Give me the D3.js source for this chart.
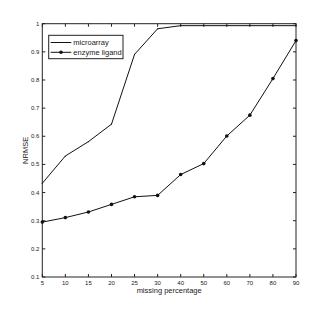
<!DOCTYPE html>
<html>
<head>
<meta charset="utf-8">
<script src="https://cdn.jsdelivr.net/npm/d3@7"></script>
<style>
  body { margin: 0; background: #fff; }
  text { font-family: "Liberation Sans", Arial, sans-serif; fill: #222; }
</style>
</head>
<body>
<svg id="chart" width="327" height="312"></svg>
<script>
// categories on the x axis (equally spaced)
var missing = [5, 10, 15, 20, 25, 30, 40, 50, 60, 70, 80, 90];
var microarray = [0.433, 0.53, 0.581, 0.643, 0.891, 0.982, 0.993, 0.993, 0.993, 0.993, 0.993, 0.993];
var enzymeLigand = [0.295, 0.311, 0.331, 0.358, 0.385, 0.39, 0.464, 0.503, 0.601, 0.675, 0.805, 0.94];
var yTicks = [0.1, 0.2, 0.3, 0.4, 0.5, 0.6, 0.7, 0.8, 0.9, 1];
var seriesNames = ['microarray', 'enzyme ligand'];

var svg = d3.select('#chart');
var plotL = 42.3, plotR = 296, plotT = 23.7, plotB = 277;

var x = d3.scalePoint()
    .domain(missing)
    .range([plotL, plotR]);
var y = d3.scaleLinear()
    .domain([0.1, 1])
    .range([plotB, plotT]);

// frame
svg.append('rect')
    .attr('x', plotL).attr('y', plotT)
    .attr('width', plotR - plotL).attr('height', plotB - plotT)
    .attr('fill', 'none').attr('stroke', '#222').attr('stroke-width', 1);

// ticks inside the box, all four sides
var tickLen = 3;
missing.forEach(function(m) {
    svg.append('line')
        .attr('x1', x(m)).attr('x2', x(m))
        .attr('y1', plotB).attr('y2', plotB - tickLen)
        .attr('stroke', '#222');
    svg.append('line')
        .attr('x1', x(m)).attr('x2', x(m))
        .attr('y1', plotT).attr('y2', plotT + tickLen)
        .attr('stroke', '#222');
    svg.append('text')
        .attr('x', x(m)).attr('y', plotB + 8)
        .attr('text-anchor', 'middle')
        .attr('font-size', 6)
        .text(m);
});
yTicks.forEach(function(t) {
    svg.append('line')
        .attr('x1', plotL).attr('x2', plotL + tickLen)
        .attr('y1', y(t)).attr('y2', y(t))
        .attr('stroke', '#222');
    svg.append('line')
        .attr('x1', plotR).attr('x2', plotR - tickLen)
        .attr('y1', y(t)).attr('y2', y(t))
        .attr('stroke', '#222');
    svg.append('text')
        .attr('x', plotL - 3).attr('y', y(t) + 2)
        .attr('text-anchor', 'end')
        .attr('font-size', 6)
        .text(t);
});

// axis labels
svg.append('text')
    .attr('x', (plotL + plotR) / 2).attr('y', 293)
    .attr('text-anchor', 'middle')
    .attr('font-size', 7.5)
    .text('missing percentage');
svg.append('text')
    .attr('transform', 'translate(28,' + ((plotT + plotB) / 2) + ') rotate(-90)')
    .attr('text-anchor', 'middle')
    .attr('font-size', 7.5)
    .text('NRMSE');

var line = d3.line()
    .x(function(d, i) { return x(missing[i]); })
    .y(function(d) { return y(d); });

svg.append('path')
    .datum(microarray)
    .attr('d', line)
    .attr('fill', 'none').attr('stroke', '#111').attr('stroke-width', 1);
svg.selectAll('.dot-m')
    .data(microarray).enter().append('circle')
    .attr('cx', function(d, i) { return x(missing[i]); })
    .attr('cy', function(d) { return y(d); })
    .attr('r', 0.6).attr('fill', '#111');

svg.append('path')
    .datum(enzymeLigand)
    .attr('d', line)
    .attr('fill', 'none').attr('stroke', '#111').attr('stroke-width', 1);
svg.selectAll('.dot-e')
    .data(enzymeLigand).enter().append('circle')
    .attr('cx', function(d, i) { return x(missing[i]); })
    .attr('cy', function(d) { return y(d); })
    .attr('r', 1.8).attr('fill', '#111');

// legend
var lg = svg.append('g');
lg.append('rect')
    .attr('x', 48.7).attr('y', 35.3)
    .attr('width', 74.3).attr('height', 23.4)
    .attr('fill', '#fff').attr('stroke', '#222');
seriesNames.forEach(function(name, i) {
    var ly = 42.5 + i * 9.8;
    lg.append('line')
        .attr('x1', 50.7).attr('x2', 71.3)
        .attr('y1', ly).attr('y2', ly)
        .attr('stroke', '#111');
    lg.append('circle')
        .attr('cx', 61).attr('cy', ly)
        .attr('r', i === 0 ? 0.6 : 1.8).attr('fill', '#111');
    lg.append('text')
        .attr('x', 73.3).attr('y', ly + 2.6)
        .attr('font-size', 7.5)
        .text(name);
});
</script>
</body>
</html>
